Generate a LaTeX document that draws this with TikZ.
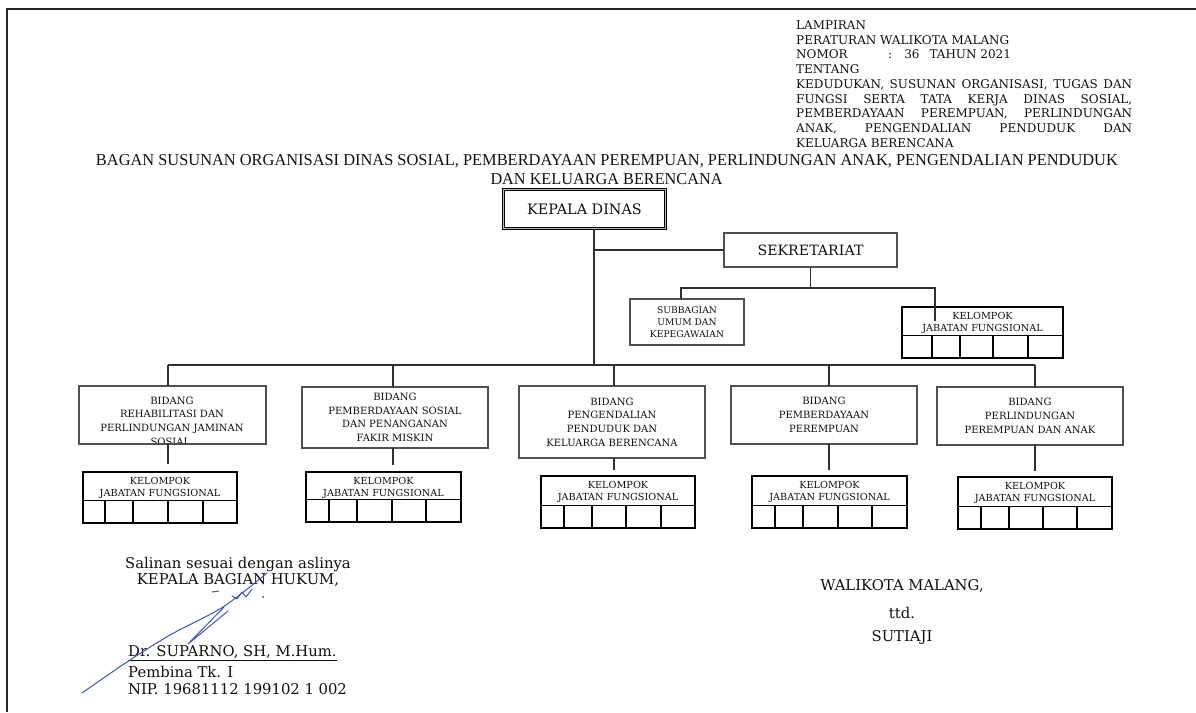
\documentclass[tikz,border=0pt]{standalone}
\usepackage{fontspec}
\setmainfont{DejaVu Serif}
\newfontfamily\titlefont{Liberation Serif}
\usepackage{graphicx}
\usetikzlibrary{calc}
\definecolor{boxgray}{HTML}{505050}
\definecolor{linegray}{HTML}{303030}
\definecolor{ink}{HTML}{3A55C4}
\definecolor{txt}{HTML}{101010}
\tikzset{
  bbox/.style={draw=boxgray, line width=1.6pt, rectangle, inner sep=0pt, outer sep=0pt,
    align=center, text=txt, font=\fontsize{10}{13.7}\selectfont},
  btext/.style={font=\fontsize{10}{13.7}\selectfont, align=center, text=txt, inner sep=0pt},
  kbox/.style={draw=black, line width=1.3pt, rectangle, inner sep=0pt, outer sep=0pt},
  kline/.style={draw=black, line width=1.3pt},
  ktext/.style={font=\fontsize{9.7}{12}\selectfont, align=center, text=txt, inner sep=0pt},
  conn/.style={draw=linegray, line width=1.4pt},
  kdbox/.style={draw=black, double=gray!55, double distance=1.8pt, line width=0.7pt,
    rectangle, inner sep=0pt, outer sep=0pt, text=txt, font=\fontsize{14.4}{16}\selectfont},
  sig/.style={font=\fontsize{14.8}{16}\selectfont, text=txt, inner sep=0pt},
  hdr/.style={font=\fontsize{12}{14.75}\selectfont, text=txt, inner sep=0pt, align=left},
  ttl/.style={font=\titlefont, text=txt, inner sep=0pt},
  inkline/.style={draw=ink, line width=1pt, line cap=round, line join=round}
}
\newcommand{\kelbox}[6]{%
  \node[kbox, minimum width=#4pt, minimum height=#5pt, anchor=north west] (#1) at (#2,#3) {};
  \node[ktext] (#1t) at ($(#1.north)+(0,16)$) {KELOMPOK\\JABATAN FUNGSIONAL};
  \draw[kline] ($(#1.south west)+(0,-22.5)$) -- ($(#1.south east)+(0,-22.5)$);
  \foreach \o in {#6}{\draw[kline] ($(#1.south west)+(\o,0)$) -- ++(0,-22.5);}
}
\begin{document}
\begin{tikzpicture}[x=1pt,y=-1pt]
\useasboundingbox (0,0) rectangle (1196,712);
% page frame
\draw[line width=1.8pt, draw=black!85] (7,712) -- (7,9) -- (1196,9);

% header
\node[hdr, anchor=north west] (hdr) at (796,20.5) {LAMPIRAN\\
PERATURAN WALIKOTA MALANG\\
\makebox[92pt][l]{NOMOR}:\hspace{12pt}36\hspace{10pt}TAHUN 2021\\
TENTANG\\
\makebox[336pt][s]{KEDUDUKAN, SUSUNAN ORGANISASI, TUGAS DAN}\\
\makebox[336pt][s]{FUNGSI SERTA TATA KERJA DINAS SOSIAL,}\\
\makebox[336pt][s]{PEMBERDAYAAN PEREMPUAN, PERLINDUNGAN}\\
\makebox[336pt][s]{ANAK, PENGENDALIAN PENDUDUK DAN}\\
KELUARGA BERENCANA};

% title
\node[ttl] (t1) at (607,161) {\resizebox{1022pt}{11pt}{BAGAN SUSUNAN ORGANISASI DINAS SOSIAL, PEMBERDAYAAN PEREMPUAN, PERLINDUNGAN ANAK, PENGENDALIAN PENDUDUK}};
\node[ttl] (t2) at (606.5,179) {\resizebox{232pt}{11pt}{DAN KELUARGA BERENCANA}};

% top nodes
\node[kdbox, minimum width=162pt, minimum height=39pt] (kd) at (584.5,209) {KEPALA DINAS};
\node[bbox, minimum width=173pt, minimum height=34pt, font=\fontsize{14.2}{16}\selectfont] (sek) at (810.5,250) {SEKRETARIAT};
\node[bbox, minimum width=114pt, minimum height=46pt, font=\fontsize{9.2}{12}\selectfont] (sub) at (687,322) {SUBBAGIAN\\UMUM DAN\\KEPEGAWAIAN};
\kelbox{kt}{902}{307}{161}{51}{30,58,91,126}

% bidang boxes
\begin{scope}
  \clip (79,386) rectangle (266,444);
  \node[btext] (b1t) at (172,421) {BIDANG\\REHABILITASI DAN\\PERLINDUNGAN JAMINAN\\SOSIAL.};
\end{scope}
\node[bbox, minimum width=187pt, minimum height=58pt] (b1) at (172.5,415) {};
\node[bbox, minimum width=186pt, minimum height=61pt] (b2) at (395,417.5) {BIDANG\\PEMBERDAYAAN SOSIAL\\DAN PENANGANAN\\FAKIR MISKIN};
\node[bbox, minimum width=186pt, minimum height=72pt] (b3) at (612,422) {BIDANG\\PENGENDALIAN\\PENDUDUK DAN\\KELUARGA BERENCANA};
\node[bbox, minimum width=186pt, minimum height=58pt] (b4) at (824,415) {BIDANG\\PEMBERDAYAAN\\PEREMPUAN};
\node[bbox, minimum width=186pt, minimum height=58pt] (b5) at (1030,416) {BIDANG\\PERLINDUNGAN\\PEREMPUAN DAN ANAK};

% kelompok boxes
\kelbox{k1}{83}{472}{154}{51}{22,50,85,120}
\kelbox{k2}{306}{472}{155}{50}{23,51,86,120}
\kelbox{k3}{541}{476}{154}{52}{23,51,85,120}
\kelbox{k4}{752}{476}{155}{52}{23,51,86,120}
\kelbox{k5}{958}{477}{154}{52}{23,51,85,119}

% connectors
\coordinate (bus0) at (594,365);
\coordinate (busL) at (168,365);
\coordinate (busR) at (1035,365);
\coordinate (d2) at (393,365);
\coordinate (d3) at (614,365);
\coordinate (d4) at (829,365);
\draw[conn] (kd.south -| bus0) -- (bus0);
\draw[conn] (bus0 |- sek.west) -- (sek.west);
\draw[conn] (busL) -- (busR);
\draw[conn] (busL) -- (busL |- b1.north);
\draw[conn] (d2) -- (d2 |- b2.north);
\draw[conn] (d3) -- (d3 |- b3.north);
\draw[conn] (d4) -- (d4 |- b4.north);
\draw[conn] (busR) -- (busR |- b5.north);

\coordinate (sl) at (681,288);
\coordinate (sr) at (935,288);
\coordinate (kte) at (935,321);
\draw[conn] (sek.south) -- (sek.south |- sl);
\draw[conn] (sl |- sub.north) -- (sl) -- (sr) -- (kte);

\coordinate (e1) at (168,464);
\coordinate (e2) at (393,465);
\coordinate (e3) at (614,470);
\coordinate (e4) at (829,470);
\coordinate (e5) at (1035,471);
\draw[conn] (e1 |- b1.south) -- (e1);
\draw[conn] (e2 |- b2.south) -- (e2);
\draw[conn] (e3 |- b3.south) -- (e3);
\draw[conn] (e4 |- b4.south) -- (e4);
\draw[conn] (e5 |- b5.south) -- (e5);

% signatures
\node[sig] (sal) at (238,565) {Salinan sesuai dengan aslinya};
\node[sig] (kbh) at (238,580) {KEPALA BAGIAN HUKUM,};
\node[sig, anchor=west] (dr) at (128,653) {\underline{Dr. SUPARNO, SH, M.Hum.}};
\node[sig, anchor=west] (pem) at (128,672) {Pembina Tk. I};
\node[sig, anchor=west] (nip) at (128,689) {NIP. 19681112 199102 1 002};

\node[sig] (wal) at (902,586) {WALIKOTA MALANG,};
\node[sig] (ttd) at (902,613) {ttd.};
\node[sig] (sut) at (902,638) {SUTIAJI};

% handwritten signature strokes
\draw[inkline] plot[smooth] coordinates {(82,693) (127,662) (170,635) (223,607) (267,573)};
\draw[inkline] (224,607) -- (188,644) -- (228,611);
\draw[inkline] (232,596) -- (237,599) -- (242,592) -- (246,597) -- (252,589);
\draw[inkline] (212,592) -- (219,591);
\fill[ink] (263,597) circle (1.2pt);
\end{tikzpicture}
\end{document}
